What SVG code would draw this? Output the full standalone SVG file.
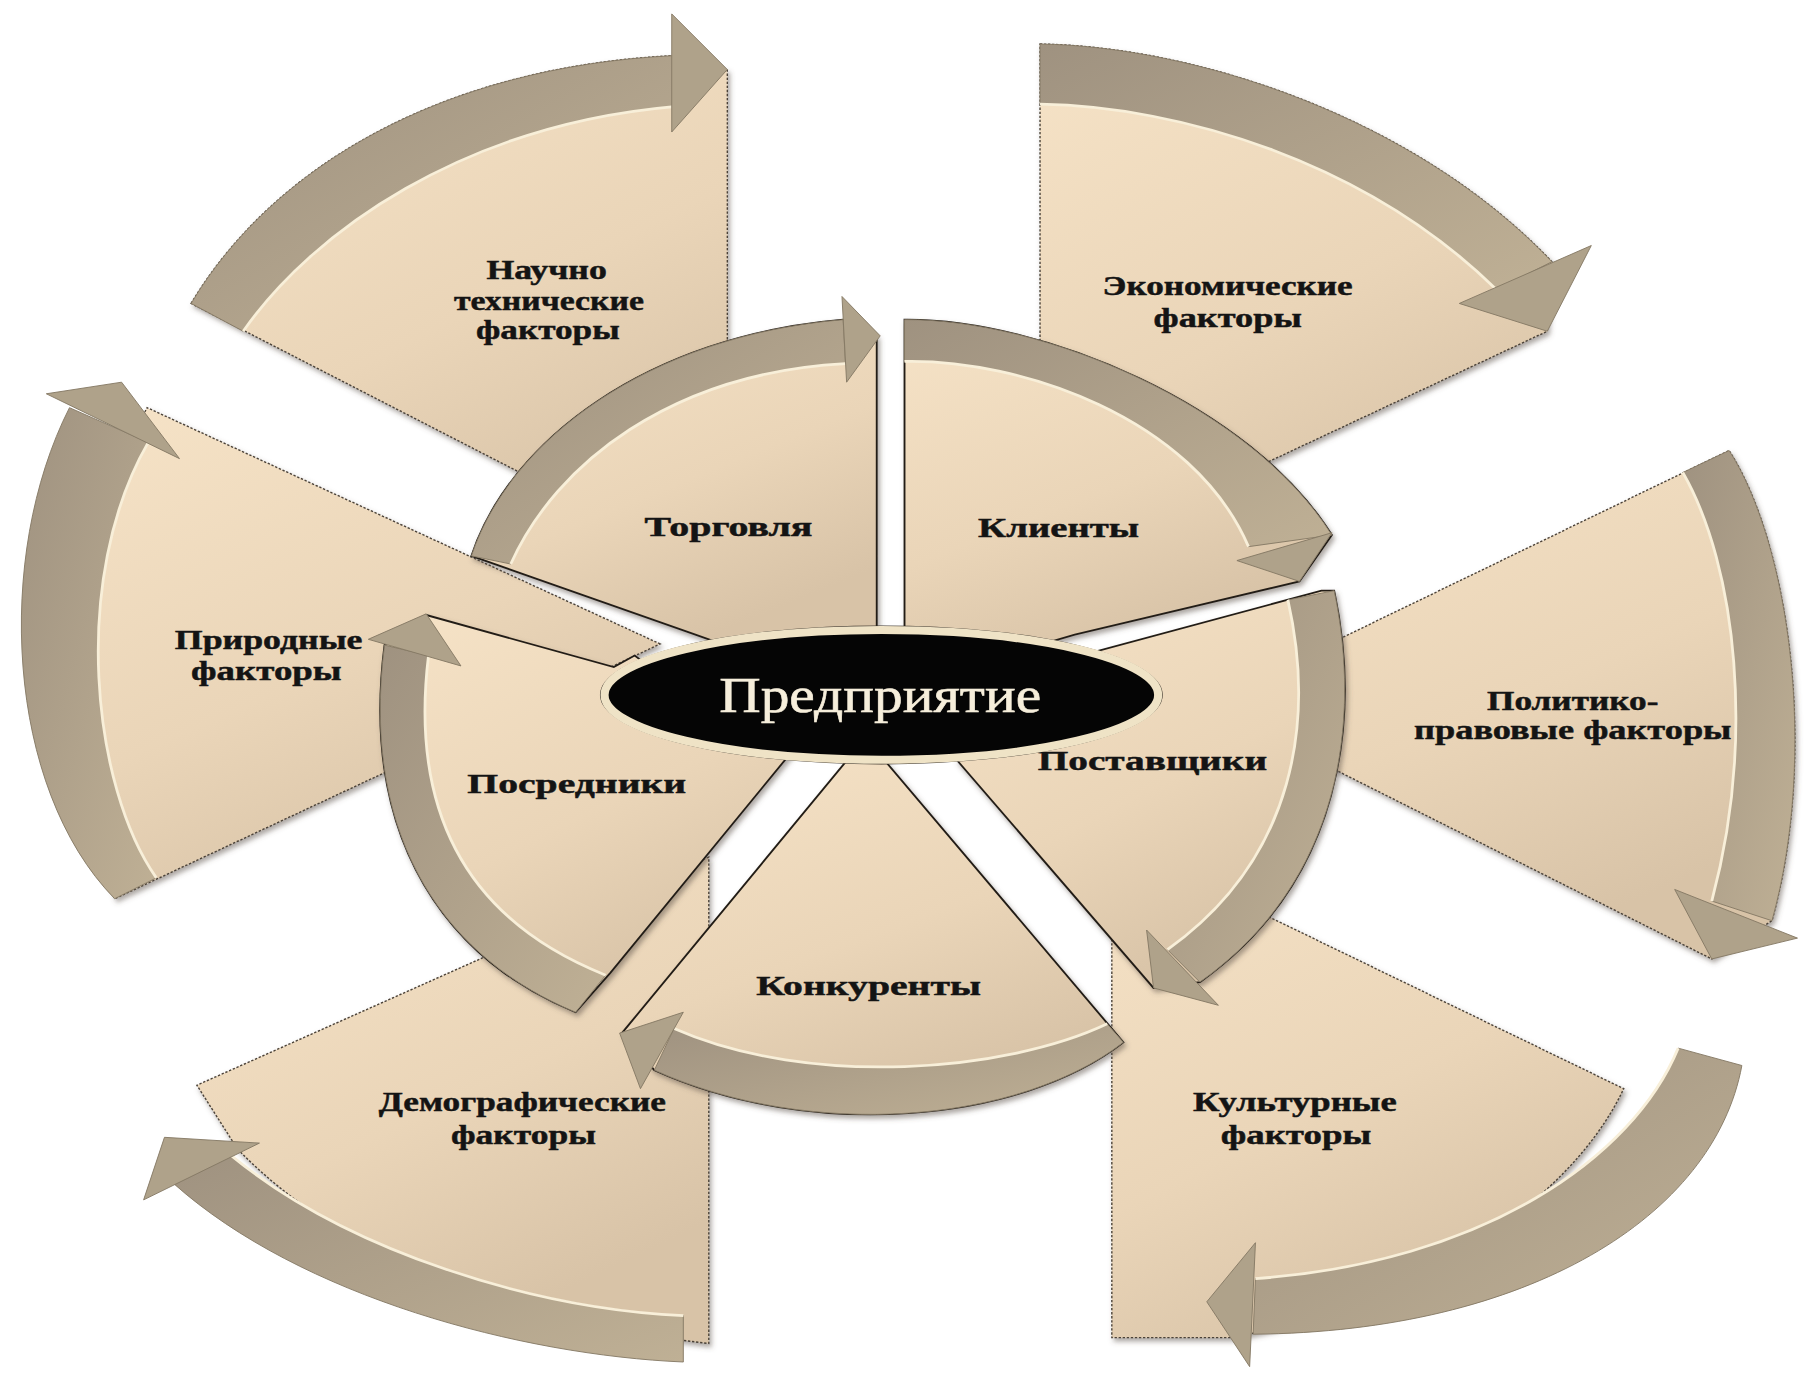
<svg xmlns="http://www.w3.org/2000/svg" width="1816" height="1376" viewBox="0 0 1816 1376">
<defs>
<linearGradient id="wg" x1="0" y1="0" x2="0.5" y2="1">
<stop offset="0" stop-color="#f6e3c7"/>
<stop offset="0.6" stop-color="#ead5b8"/>
<stop offset="1" stop-color="#d8c3a7"/>
</linearGradient>
<linearGradient id="bg" x1="0" y1="0" x2="1" y2="1">
<stop offset="0" stop-color="#9f9280"/>
<stop offset="1" stop-color="#bfb095"/>
</linearGradient>
<filter id="sh" x="-10%" y="-10%" width="120%" height="120%">
<feDropShadow dx="2" dy="3" stdDeviation="2.5" flood-color="#5a5046" flood-opacity="0.5"/>
</filter>
</defs>
<style>
.w{fill:url(#wg);stroke:#4b4238;stroke-width:1.2;stroke-dasharray:2 1.5;filter:url(#sh)}
.wi{fill:url(#wg);stroke:#231e18;stroke-width:1.6;filter:url(#sh)}
.b{fill:url(#bg);stroke:#857965;stroke-width:0.8}
.hl{fill:none;stroke:#f8efd9;stroke-width:2.4}
.ah{fill:#afa28a;stroke:#857965;stroke-width:0.8}
.t{font-family:"Liberation Serif","Times New Roman",serif;font-weight:bold;font-size:23px;fill:#141414;stroke:#141414;stroke-width:0.4;text-anchor:middle}
.tc{font-family:"Liberation Serif","Times New Roman",serif;font-size:44px;fill:#f6eedb;stroke:#f6eedb;stroke-width:0.5;text-anchor:middle}
</style>
<rect width="1816" height="1376" fill="#ffffff"/>
<g transform="scale(1.15816)">
<g id="nodes">
<g id="n-nauchno">
<path class="w" d="M165,262 C235,145 380,58 582,48 L628,60 L628,500 Z"/>
<text class="t" x="472" y="241" textLength="104" lengthAdjust="spacingAndGlyphs">Научно</text>
<text class="t" x="474" y="268" textLength="164" lengthAdjust="spacingAndGlyphs">технические</text>
<text class="t" x="473" y="293" textLength="124" lengthAdjust="spacingAndGlyphs">факторы</text>
</g>
<g id="n-econom">
<path class="w" d="M898,38 C1030,40 1220,100 1340,226 L1336,286 L898,491 Z"/>
<text class="t" x="1060" y="255" textLength="216" lengthAdjust="spacingAndGlyphs">Экономические</text>
<text class="t" x="1060" y="282" textLength="128" lengthAdjust="spacingAndGlyphs">факторы</text>
</g>
<g id="n-polit">
<path class="w" d="M1040,608 L1493,389 C1545,470 1570,650 1530,795 L1478,828 Z"/>
<text class="t" x="1358" y="613" textLength="148" lengthAdjust="spacingAndGlyphs">Политико-</text>
<text class="t" x="1358" y="638" textLength="274" lengthAdjust="spacingAndGlyphs">правовые факторы</text>
</g>
<g id="n-kult">
<path class="w" d="M960,726 L1402,940 C1350,1050 1200,1130 1063,1155 L960,1155 Z"/>
<text class="t" x="1118" y="959" textLength="176" lengthAdjust="spacingAndGlyphs">Культурные</text>
<text class="t" x="1119" y="988" textLength="130" lengthAdjust="spacingAndGlyphs">факторы</text>
</g>
<g id="n-demo">
<path class="w" d="M612,740 L170,937 L205,992 C290,1080 430,1140 612,1160 Z"/>
<text class="t" x="451" y="959" textLength="248" lengthAdjust="spacingAndGlyphs">Демографические</text>
<text class="t" x="452" y="988" textLength="125" lengthAdjust="spacingAndGlyphs">факторы</text>
</g>
<g id="n-prirod">
<path class="w" d="M570,556 L127,352 C70,460 50,640 99,776 Z"/>
<text class="t" x="232" y="560" textLength="162" lengthAdjust="spacingAndGlyphs">Природные</text>
<text class="t" x="230" y="587" textLength="130" lengthAdjust="spacingAndGlyphs">факторы</text>
</g>
<g id="n-torg">
<path class="wi" d="M407,480 C440,380 560,290 728,276 L757,290 L757,560 L640,562 L598,547 Z"/>
<text class="t" x="629" y="463" textLength="145" lengthAdjust="spacingAndGlyphs">Торговля</text>
</g>
<g id="n-klient">
<path class="wi" d="M781,276 C900,275 1080,350 1150,462 L1122,502 L928,548 L880,562 L781,562 Z"/>
<text class="t" x="914" y="464" textLength="139" lengthAdjust="spacingAndGlyphs">Клиенты</text>
</g>
<g id="n-postav">
<path class="wi" d="M900,575 L1141,510 L1152,510 C1175,620 1160,760 1036,848 L996,853 L826,656 L870,630 Z"/>
<text class="t" x="995" y="665" textLength="198" lengthAdjust="spacingAndGlyphs">Поставщики</text>
</g>
<g id="n-posred">
<path class="wi" d="M368,531 L530,576 L548,566 L600,605 L687,645 L527,840 L497,874 C390,830 310,730 332,557 Z"/>
<text class="t" x="498" y="685" textLength="189" lengthAdjust="spacingAndGlyphs">Посредники</text>
</g>
<g id="n-konk">
<path class="wi" d="M735,652 L537,892 L565,924 C700,985 880,970 970,900 L760,652 Z"/>
<text class="t" x="750" y="859" textLength="194" lengthAdjust="spacingAndGlyphs">Конкуренты</text>
</g>
</g>
<g id="connectors">
<path class="b" d="M165,262 C235,145 380,58 582,48 L582,92 C400,108 270,200 210,286 Z"/>
<path class="hl" d="M210,286 C270,200 400,108 582,92"/>
<polygon class="ah" points="580,12 628,60 580,114"/>
<path class="b" d="M898,38 C1030,40 1220,100 1340,226 L1292,250 C1180,140 1020,92 898,90 Z"/>
<path class="hl" d="M898,90 C1020,92 1180,140 1292,250"/>
<polygon class="ah" points="1260,262 1374,212 1336,286"/>
<path class="b" d="M1493,389 C1545,470 1570,650 1530,795 L1478,778 C1515,640 1500,490 1453,408 Z"/>
<path class="hl" d="M1453,408 C1500,490 1515,640 1478,778"/>
<polygon class="ah" points="1446,768 1552,810 1478,828"/>
<path class="b" d="M1504,920 C1480,1050 1320,1150 1082,1152 L1084,1104 C1280,1090 1410,1000 1449,905 Z"/>
<path class="hl" d="M1449,905 C1410,1000 1280,1090 1084,1104"/>
<polygon class="ah" points="1084,1073 1079,1180 1042,1124"/>
<path class="b" d="M590,1176 C450,1170 260,1120 150,1022 L200,998 C300,1080 460,1130 590,1136 Z"/>
<path class="hl" d="M200,998 C300,1080 460,1130 590,1136"/>
<polygon class="ah" points="142,982 224,987 124,1036"/>
<path class="b" d="M99,776 C5,680 -5,480 60,352 L128,382 C60,500 80,680 135,758 Z"/>
<path class="hl" d="M135,758 C80,680 60,500 128,382"/>
<polygon class="ah" points="40,340 105,330 155,396"/>
<path class="b" d="M407,480 C440,380 560,290 728,276 L730,314 C580,322 480,400 441,487 Z"/>
<path class="hl" d="M441,487 C480,400 580,322 730,314"/>
<polygon class="ah" points="727,256 760,290 731,330"/>
<path class="b" d="M781,276 C900,275 1080,350 1150,462 L1078,472 C1030,360 880,310 781,312 Z"/>
<path class="hl" d="M781,312 C880,310 1030,360 1078,472"/>
<polygon class="ah" points="1068,484 1150,460 1122,502"/>
<path class="b" d="M1152,510 C1175,620 1160,760 1036,848 L1008,820 C1120,740 1135,620 1112,518 Z"/>
<path class="hl" d="M1112,518 C1135,620 1120,740 1008,820"/>
<polygon class="ah" points="990,803 1052,868 996,853"/>
<path class="b" d="M497,874 C390,830 310,730 332,557 L370,566 C350,730 430,805 523,842 Z"/>
<path class="hl" d="M523,842 C430,805 350,730 370,566"/>
<polygon class="ah" points="318,552 368,530 398,575"/>
<path class="b" d="M970,900 C880,970 700,985 565,924 L582,888 C700,940 870,925 956,884 Z"/>
<path class="hl" d="M956,884 C870,925 700,940 582,888"/>
<polygon class="ah" points="535,892 590,874 553,940"/>
</g>
<g id="n-center">
<ellipse cx="761" cy="600" rx="243" ry="60" fill="#3a332b"/>
<ellipse cx="761" cy="600" rx="239" ry="56" fill="#050505" stroke="#efe3c6" stroke-width="7"/>
<text class="tc" x="760" y="615" textLength="278" lengthAdjust="spacingAndGlyphs">Предприятие</text>
</g>
</g>
</svg>
